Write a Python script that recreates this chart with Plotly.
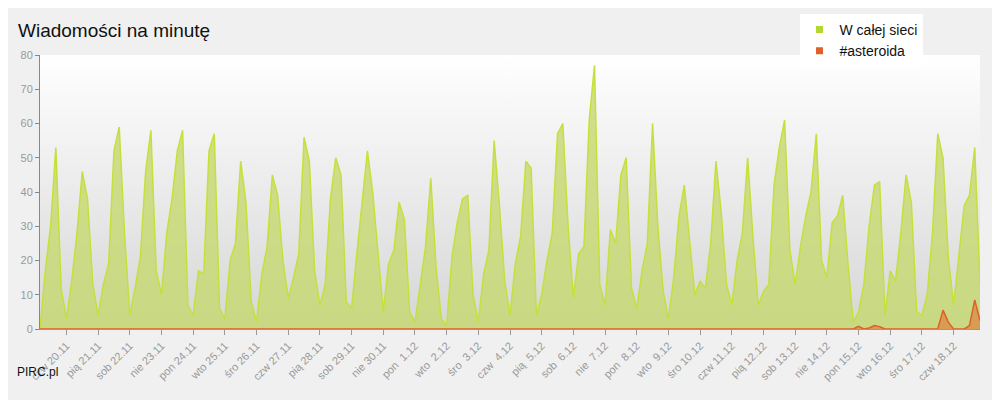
import plotly.graph_objects as go
import pandas as pd

start = "2014-11-19 04:00"
network = [0,17,30,53,12,3, 14,28,46,38,13,4, 13,19,52,59,28,4, 12,21,46,58,17,10,
           28,38,52,58,7,4, 17,16,52,57,6,3, 20,25,49,37,8,2, 16,24,45,39,20,9,
           15,22,56,49,17,7, 13,38,50,45,8,6, 22,38,52,40,22,5, 19,23,37,32,5,2,
           13,24,44,18,3,1, 21,31,38,39,10,2, 16,23,55,36,
           14,4,19,27,49,47, 4,10,20,28,57,60, 30,9,22,24,61,77, 13,7,29,25,45,50,
           12,6,17,25,60,30, 11,3,15,33,42,27, 10,14,12,25,49,34, 13,7,20,28,50,27,
           7,11,13,42,53,61, 23,13,24,33,40,57, 20,15,31,33,39,19, 2,5,13,30,42,43,
           4,17,14,28,45,37, 5,4,10,28,57,50, 21,7,21,36,39,53, 13]
asteroida = [0]*149 + [0.2,0,0,0,0,0,0.8,0,0.3,1,0.7,0,0,0,0,0,0,0,0,0,0,0,5.5,2,0,0,0,1,8.5,2.5]
day_names = ["czw","pią","sob","nie","pon","wto","śro"]
first_day = "2014-11-20"
n_days = 29

times = pd.date_range(start, periods=len(network), freq="4h")
days = pd.date_range(first_day, periods=n_days, freq="D")
labels = [f"{day_names[i % 7]} {d.day:2d}.{d.month}".replace(" ", "\u00a0") for i, d in enumerate(days)]

fig = go.Figure()
fig.add_trace(go.Scatter(x=[times[0], times[-1]], y=[80, 80], mode="lines", line=dict(width=0),
                         fill="tozeroy", fillgradient=dict(type="vertical",
                         colorscale=[[0, "#d6d6d6"], [1, "#ffffff"]]),
                         showlegend=False, hoverinfo="skip"))
fig.add_trace(go.Scatter(x=times, y=network, mode="lines", showlegend=False,
                         line=dict(color="#c5e03a", width=1.5), fill="tozeroy",
                         fillcolor="rgba(197,218,110,0.8)"))
fig.add_trace(go.Scatter(x=times, y=asteroida, mode="lines", showlegend=False,
                         line=dict(color="#e0602a", width=1.5), fill="tozeroy",
                         fillcolor="rgba(220,140,70,0.8)"))
for name, col in [("W całej sieci", "#b5d62c"), ("#asteroida", "#e0602a")]:
    fig.add_trace(go.Scatter(x=[None], y=[None], mode="markers", name=name,
                             marker=dict(symbol="square", size=7, color=col)))

fig.update_layout(
    width=1000, height=400, paper_bgcolor="#f0f0f0", plot_bgcolor="#f0f0f0",
    margin=dict(l=32, r=28, t=47, b=79, autoexpand=False),
    font=dict(family="Liberation Sans, Arial, sans-serif", color="#999"),
    title=dict(text="Wiadomości na minutę", x=0.01, y=0.945, xanchor="left", yanchor="middle",
               font=dict(size=19, color="#111")),
    legend=dict(x=0.808, y=1.15, xanchor="left", yanchor="top", bgcolor="white",
                font=dict(size=14, color="#111"), tracegroupgap=0, itemwidth=30,
                entrywidth=90, borderwidth=0),
    showlegend=True,
    xaxis=dict(range=[times[0], times[-1]], tickvals=days, ticktext=labels, tickangle=-45,
               ticks="outside", ticklen=5, tickcolor="#999", showgrid=False, zeroline=False,
               automargin=False,
               showline=True, linecolor="#999", tickfont=dict(size=11, color="#999")),
    yaxis=dict(range=[0, 80], dtick=10, showgrid=False, zeroline=False, showline=True,
               automargin=False,
               linecolor="#888", ticks="outside", ticklen=4, tickcolor="#888",
               tickfont=dict(size=11, color="#999")),
)
fig.add_annotation(text="PIRC.pl", xref="paper", yref="paper", x=-0.027, y=-0.19,
                   xanchor="left", showarrow=False, font=dict(size=12, color="#111"))
fig.write_html("out.html")
